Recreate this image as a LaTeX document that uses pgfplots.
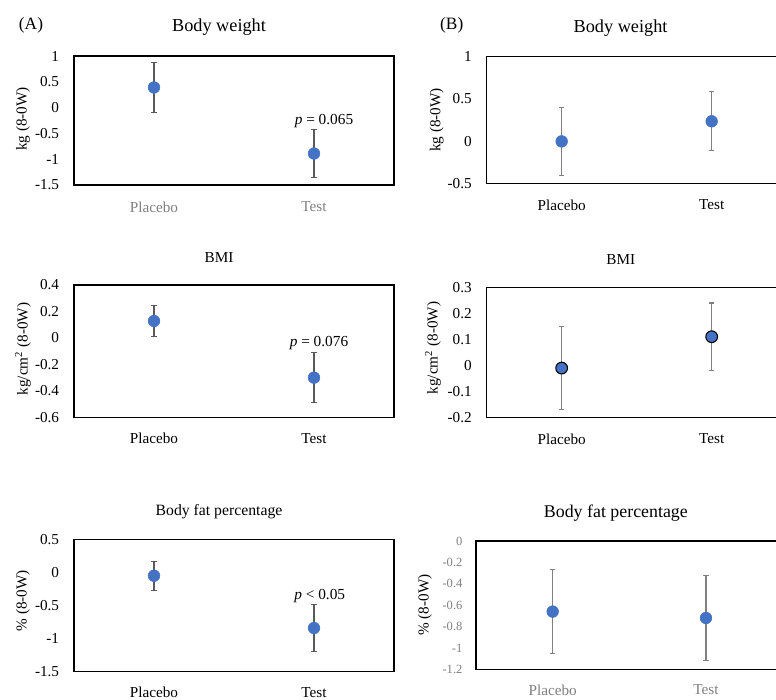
\documentclass[border=0pt]{standalone}
\usepackage{fontspec}
\setmainfont{Liberation Serif}
\usepackage{pgfplots}
\pgfplotsset{compat=1.18}
\definecolor{mblue}{HTML}{4472C4}
\definecolor{ebA}{HTML}{595959}
\definecolor{ebB}{HTML}{808080}
\definecolor{lblgray}{HTML}{7F7F7F}
\pgfplotsset{
  panel/.style={
    scale only axis, anchor=south west,
    xmin=0.5, xmax=2.5, xtick={1,2}, xticklabels={Placebo,Test},
    major tick length=0pt,
    axis line style={line width=1.1pt, black},
    /pgf/number format/assume math mode=true,
    tick label style={font=\fontsize{11.4}{13}\selectfont},
    yticklabel style={anchor=east, inner sep=0pt, xshift=-11pt},
    xticklabel style={anchor=center, inner sep=0pt},
    clip=false,
  },
  ebar/.style={draw=none, mark=none, forget plot,
    error bars/.cd, y dir=both, y explicit,
    error bar style={line width=0.8pt, draw=#1},
    error mark options={rotate=90, mark size=2pt, line width=0.8pt, draw=#1}},
  pts/.style={only marks, mark=*, mark size=4.4pt, mark options={fill=mblue, draw=mblue}},
}
\begin{document}
\begin{tikzpicture}
\useasboundingbox (0,0) rectangle (582pt,525pt);

% ---------- (A) Body weight
\begin{axis}[panel, at={(55.5pt,386.25pt)}, width=240pt, height=96.75pt,
  ymin=-1.5, ymax=1, ytick={-1.5,-1,-0.5,0,0.5,1},
  xticklabel style={yshift=-16.5pt, text=lblgray}]
\addplot[ebar=ebA] coordinates {(1,0.39) +- (0,0.48) (2,-0.89) +- (0,0.46)};
\addplot[pts] coordinates {(1,0.39) (2,-0.89)};
\end{axis}

% ---------- (B) Body weight
\begin{axis}[panel, at={(365pt,387.2pt)}, width=225pt, height=95.3pt,
  ymin=-0.5, ymax=1, ytick={-0.5,0,0.5,1},
  xticklabel style={yshift=-16pt}]
\addplot[ebar=ebB] coordinates {(1,0.0) +- (0,0.40) (2,0.237) +- (0,0.35)};
\addplot[pts] coordinates {(1,0.0) (2,0.237)};
\end{axis}

% ---------- (A) BMI
\begin{axis}[panel, at={(55.5pt,212pt)}, width=240pt, height=99.25pt,
  ymin=-0.6, ymax=0.4, ytick={-0.6,-0.4,-0.2,0,0.2,0.4},
  xticklabel style={yshift=-15.75pt}]
\addplot[ebar=ebA] coordinates {(1,0.128) +- (0,0.12) (2,-0.30) +- (0,0.19)};
\addplot[pts] coordinates {(1,0.128) (2,-0.30)};
\end{axis}

% ---------- (B) BMI
\begin{axis}[panel, at={(365pt,212pt)}, width=225pt, height=97.2pt,
  ymin=-0.2, ymax=0.3, ytick={-0.2,-0.1,0,0.1,0.2,0.3},
  xticklabel style={yshift=-16.3pt}]
\addplot[ebar=ebB] coordinates {(1,-0.01) +- (0,0.16) (2,0.111) +- (0,0.13)};
\addplot[pts, mark options={fill=mblue, draw=black, line width=0.8pt}] coordinates {(1,-0.01) (2,0.111)};
\end{axis}

% ---------- (A) Body fat
\begin{axis}[panel, at={(55.5pt,21.2pt)}, width=240pt, height=99.3pt,
  ymin=-1.5, ymax=0.5, ytick={-1.5,-1,-0.5,0,0.5},
  xticklabel style={yshift=-15.5pt}]
\addplot[ebar=ebA] coordinates {(1,-0.05) +- (0,0.22) (2,-0.84) +- (0,0.355)};
\addplot[pts] coordinates {(1,-0.05) (2,-0.84)};
\end{axis}

% ---------- (B) Body fat
\begin{axis}[panel, at={(357pt,23pt)}, width=230pt, height=96.25pt,
  ymin=-1.2, ymax=0, ytick={-1.2,-1,-0.8,-0.6,-0.4,-0.2,0},
  yticklabel style={font=\fontsize{9.4}{10}\selectfont, text=lblgray, xshift=1pt},
  xticklabel style={yshift=-15.5pt, text=lblgray}]
\addplot[ebar=ebB] coordinates {(1,-0.66) +- (0,0.39) (2,-0.72) +- (0,0.40)};
\addplot[pts] coordinates {(1,-0.66) (2,-0.72)};
\end{axis}

% ---------- titles and labels
\node[font=\fontsize{13}{15}\selectfont] at (23.25pt,506.25pt) {(A)};
\node[font=\fontsize{13}{15}\selectfont] at (338.8pt,506.25pt) {(B)};
\node[font=\fontsize{13.7}{15}\selectfont] at (164.25pt,504.75pt) {Body weight};
\node[font=\fontsize{13.7}{15}\selectfont] at (465.4pt,504.2pt) {Body weight};
\node[font=\fontsize{11.4}{13}\selectfont] at (164.25pt,331.7pt) {BMI};
\node[font=\fontsize{11.4}{13}\selectfont] at (465.6pt,330pt) {BMI};
\node[font=\fontsize{11.8}{13}\selectfont] at (164.25pt,141.2pt) {Body fat percentage};
\node[font=\fontsize{13.4}{15}\selectfont] at (461.9pt,140.5pt) {Body fat percentage};

\node[rotate=90, font=\fontsize{11.4}{13}\selectfont] at (17.25pt,435.75pt) {kg (8-0W)};
\node[rotate=90, font=\fontsize{11.4}{13}\selectfont] at (327.5pt,435pt) {kg (8-0W)};
\node[rotate=90, font=\fontsize{11.4}{13}\selectfont] at (17.25pt,263.25pt) {kg/cm\textsuperscript{2} (8-0W)};
\node[rotate=90, font=\fontsize{11.4}{13}\selectfont] at (324.75pt,264pt) {kg/cm\textsuperscript{2} (8-0W)};
\node[rotate=90, font=\fontsize{11.4}{13}\selectfont] at (17.25pt,74.4pt) {\% (8-0W)};
\node[rotate=90, font=\fontsize{11.4}{13}\selectfont] at (318.75pt,71.25pt) {\% (8-0W)};

\node[font=\fontsize{11.5}{13}\selectfont] at (243pt,434.5pt) {\textit{p} = 0.065};
\node[font=\fontsize{11.5}{13}\selectfont] at (239.25pt,267.5pt) {\textit{p} = 0.076};
\node[font=\fontsize{11.5}{13}\selectfont] at (239.8pt,78pt) {\textit{p} < 0.05};
\end{tikzpicture}
\end{document}
